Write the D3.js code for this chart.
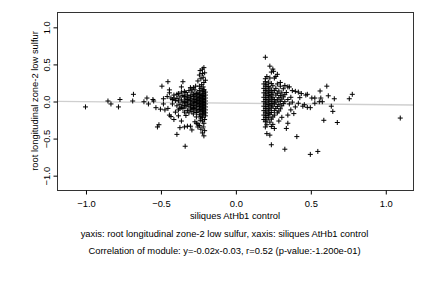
<!DOCTYPE html>
<html>
<head>
<meta charset="utf-8">
<script src="https://cdn.jsdelivr.net/npm/d3@7"></script>
<style>
  body { margin: 0; background: #fff; }
  svg text { font-family: "Liberation Sans", Arial, Helvetica, sans-serif; font-size: 9.4px; fill: #000; }
</style>
</head>
<body>
<div id="chart"></div>
<script>
// tick values
const xTicks = [-1.0, -0.5, 0.0, 0.5, 1.0];
const yTicks = [-1.0, -0.5, 0.0, 0.5, 1.0];

// fit line y = slope * x + intercept
const slope = -0.02;
const intercept = -0.03;

// sparse points on the far left and the edges of the left group
const leftSparse = [
  [-1.00, -0.08], [-0.85, 0.00], [-0.83, -0.04], [-0.78, -0.08], [-0.77, 0.02],
  [-0.68, 0.09], [-0.685, 0.00], [-0.61, -0.01], [-0.59, 0.04], [-0.58, -0.04],
  [-0.55, 0.02], [-0.545, 0.00], [-0.53, -0.09], [-0.52, -0.35], [-0.51, -0.32],
  [-0.49, 0.20], [-0.50, -0.11], [-0.48, 0.03], [-0.48, -0.04], [-0.47, -0.12],
  [-0.45, 0.26], [-0.455, 0.06], [-0.44, 0.15], [-0.44, 0.11], [-0.45, -0.10],
  [-0.44, -0.19], [-0.43, -0.21], [-0.42, 0.02], [-0.41, -0.25], [-0.39, -0.45],
  [-0.37, -0.36], [-0.35, 0.26], [-0.36, 0.19], [-0.34, -0.35], [-0.32, -0.34],
  [-0.34, 0.13], [-0.36, -0.27], [-0.335, -0.61], [-0.30, -0.34], [-0.29, -0.39],
  [-0.26, -0.30], [-0.25, -0.35], [-0.30, 0.18], [-0.29, 0.16], [-0.235, -0.26],
  [-0.39, 0.09], [-0.41, 0.04], [-0.37, -0.10], [-0.40, -0.15], [-0.38, -0.20]
];

// the tall column near x = -0.2
const leftColumn = [
  [-0.21, 0.45], [-0.22, 0.43], [-0.235, 0.41], [-0.22, 0.37], [-0.24, 0.35],
  [-0.215, 0.32], [-0.23, 0.30], [-0.25, 0.27], [-0.21, 0.25], [-0.225, 0.22],
  [-0.24, 0.20], [-0.265, 0.20], [-0.28, 0.18], [-0.23, 0.17], [-0.21, 0.15],
  [-0.21, -0.47], [-0.22, -0.43], [-0.205, -0.40], [-0.23, -0.38], [-0.24, -0.33],
  [-0.21, -0.30], [-0.22, -0.27], [-0.25, -0.31], [-0.27, -0.28], [-0.23, -0.23],
  [-0.205, -0.25], [-0.215, -0.35], [-0.2, 0.28], [-0.205, 0.38], [-0.215, 0.19]
];

// dense part of the left group
const leftDense = [
  [-0.21, 0.15], [-0.24, 0.14], [-0.27, 0.15], [-0.31, 0.14],
  [-0.20, 0.12], [-0.22, 0.125], [-0.25, 0.11], [-0.29, 0.12], [-0.33, 0.115], [-0.36, 0.12],
  [-0.21, 0.10], [-0.23, 0.095], [-0.26, 0.10], [-0.28, 0.09], [-0.38, 0.10],
  [-0.20, 0.08], [-0.22, 0.075], [-0.24, 0.085], [-0.27, 0.08], [-0.30, 0.07], [-0.32, 0.08], [-0.35, 0.075], [-0.41, 0.08],
  [-0.21, 0.06], [-0.23, 0.055], [-0.25, 0.065], [-0.28, 0.06], [-0.31, 0.05], [-0.34, 0.06], [-0.37, 0.055],
  [-0.20, 0.04], [-0.22, 0.035], [-0.24, 0.045], [-0.26, 0.04], [-0.29, 0.03], [-0.33, 0.04], [-0.39, 0.035], [-0.43, 0.04],
  [-0.21, 0.02], [-0.23, 0.015], [-0.25, 0.025], [-0.27, 0.02], [-0.30, 0.01], [-0.32, 0.02], [-0.36, 0.015],
  [-0.20, 0.00], [-0.22, -0.005], [-0.24, 0.005], [-0.26, 0.00], [-0.28, -0.01], [-0.31, 0.00], [-0.34, -0.005], [-0.38, 0.00], [-0.40, 0.005],
  [-0.21, -0.02], [-0.23, -0.025], [-0.25, -0.015], [-0.27, -0.02], [-0.29, -0.03], [-0.33, -0.02], [-0.35, -0.025],
  [-0.20, -0.04], [-0.22, -0.045], [-0.24, -0.035], [-0.26, -0.04], [-0.30, -0.05], [-0.32, -0.04], [-0.37, -0.045], [-0.42, -0.04],
  [-0.21, -0.06], [-0.23, -0.065], [-0.25, -0.055], [-0.28, -0.06], [-0.31, -0.07], [-0.34, -0.06], [-0.39, -0.065],
  [-0.20, -0.08], [-0.22, -0.085], [-0.24, -0.075], [-0.27, -0.08], [-0.29, -0.09], [-0.33, -0.08], [-0.36, -0.085],
  [-0.21, -0.10], [-0.23, -0.105], [-0.26, -0.095], [-0.28, -0.10], [-0.30, -0.11], [-0.35, -0.10],
  [-0.20, -0.12], [-0.22, -0.125], [-0.24, -0.115], [-0.27, -0.12], [-0.32, -0.13], [-0.38, -0.12],
  [-0.21, -0.14], [-0.23, -0.145], [-0.25, -0.135], [-0.29, -0.14], [-0.34, -0.15],
  [-0.20, -0.16], [-0.22, -0.165], [-0.26, -0.155], [-0.31, -0.16],
  [-0.21, -0.18], [-0.24, -0.185], [-0.28, -0.175],
  [-0.20, -0.20], [-0.23, -0.205], [-0.33, -0.195],
  [-0.22, -0.22], [-0.26, -0.215]
];

// sparse points of the right group and far right
const rightSparse = [
  [0.20, 0.59], [0.23, 0.47], [0.25, 0.43], [0.255, 0.40], [0.24, 0.39],
  [0.21, 0.33], [0.23, 0.31], [0.26, 0.31], [0.27, 0.33], [0.20, 0.30],
  [0.35, 0.19], [0.36, 0.19], [0.40, 0.13], [0.42, 0.12], [0.46, -0.05],
  [0.40, -0.08], [0.39, -0.17], [0.35, -0.19], [0.35, -0.30], [0.34, -0.37],
  [0.26, -0.37], [0.23, -0.46], [0.21, -0.44], [0.24, -0.59], [0.33, -0.65],
  [0.41, -0.48], [0.43, 0.045], [0.47, 0.08], [0.48, 0.09], [0.51, 0.04],
  [0.53, 0.04], [0.565, 0.135], [0.57, 0.04], [0.58, -0.01], [0.56, -0.01],
  [0.61, 0.20], [0.62, 0.07], [0.66, 0.03], [0.64, -0.07], [0.65, -0.14],
  [0.59, -0.26], [0.68, -0.29], [0.76, 0.03], [0.78, 0.09], [0.53, -0.03],
  [0.45, -0.07], [0.48, -0.085], [0.50, -0.09], [1.10, -0.23], [0.55, -0.68],
  [0.50, -0.72], [0.30, 0.25], [0.33, 0.21], [0.29, -0.27], [0.31, -0.22],
  [0.44, 0.10], [0.38, 0.14], [0.42, -0.03], [0.37, -0.12], [0.28, 0.36]
];

// dense part of the right group
const rightDense = [
  [0.20, 0.26], [0.22, 0.255],
  [0.19, 0.23], [0.21, 0.225], [0.24, 0.235], [0.28, 0.23],
  [0.20, 0.20], [0.22, 0.195], [0.25, 0.205], [0.30, 0.20],
  [0.19, 0.17], [0.21, 0.165], [0.23, 0.175], [0.27, 0.17], [0.32, 0.165],
  [0.20, 0.14], [0.22, 0.135], [0.24, 0.145], [0.26, 0.14], [0.29, 0.135],
  [0.19, 0.11], [0.21, 0.105], [0.23, 0.115], [0.25, 0.11], [0.28, 0.105], [0.31, 0.11], [0.34, 0.115],
  [0.20, 0.08], [0.22, 0.075], [0.24, 0.085], [0.27, 0.08], [0.30, 0.075], [0.33, 0.085],
  [0.19, 0.05], [0.21, 0.045], [0.23, 0.055], [0.25, 0.05], [0.29, 0.045], [0.32, 0.055], [0.37, 0.05],
  [0.20, 0.02], [0.22, 0.015], [0.24, 0.025], [0.26, 0.02], [0.28, 0.015], [0.31, 0.025], [0.35, 0.02],
  [0.19, -0.01], [0.21, -0.015], [0.23, -0.005], [0.25, -0.01], [0.27, -0.015], [0.30, -0.005], [0.33, -0.01], [0.38, -0.015],
  [0.20, -0.04], [0.22, -0.045], [0.24, -0.035], [0.26, -0.04], [0.29, -0.045], [0.32, -0.035], [0.36, -0.04],
  [0.19, -0.07], [0.21, -0.075], [0.23, -0.065], [0.25, -0.07], [0.28, -0.075], [0.31, -0.065],
  [0.20, -0.10], [0.22, -0.105], [0.24, -0.095], [0.27, -0.10], [0.30, -0.105],
  [0.19, -0.13], [0.21, -0.135], [0.23, -0.125], [0.26, -0.13], [0.29, -0.135],
  [0.20, -0.16], [0.22, -0.165], [0.24, -0.155], [0.28, -0.16],
  [0.19, -0.19], [0.21, -0.195], [0.23, -0.185], [0.26, -0.19],
  [0.20, -0.22], [0.22, -0.225], [0.25, -0.215],
  [0.19, -0.25], [0.21, -0.255], [0.24, -0.245],
  [0.20, -0.28], [0.23, -0.285],
  [0.21, -0.32], [0.25, -0.315],
  [0.20, -0.35], [0.24, -0.345]
];

const points = [].concat(leftSparse, leftColumn, leftDense, rightSparse, rightDense);

const width = 432, height = 288;
const plot = { left: 57, right: 413, top: 12, bottom: 190 };

const svg = d3.select("#chart").append("svg")
  .attr("width", width)
  .attr("height", height);

const x = d3.scaleLinear().domain([-1.19, 1.185]).range([plot.left, plot.right]);
const y = d3.scaleLinear().domain([-1.2, 1.2]).range([plot.bottom, plot.top]);

// regression line
const lineX = x.domain();
svg.append("line")
  .attr("x1", x(lineX[0])).attr("y1", y(slope * lineX[0] + intercept))
  .attr("x2", x(lineX[1])).attr("y2", y(slope * lineX[1] + intercept))
  .attr("stroke", "#cfcfcf")
  .attr("stroke-width", 1.3);

// points, drawn as plus signs
svg.append("g").selectAll("path")
  .data(points)
  .enter().append("path")
  .attr("transform", d => `translate(${x(d[0])},${y(d[1])})`)
  .attr("d", "M-2.5,0H2.5M0,-2.5V2.5")
  .attr("stroke", "#000")
  .attr("stroke-width", 1)
  .attr("fill", "none");

// box
svg.append("rect")
  .attr("x", plot.left + 0.5).attr("y", plot.top + 0.5)
  .attr("width", plot.right - plot.left).attr("height", plot.bottom - plot.top)
  .attr("fill", "none")
  .attr("stroke", "#333")
  .attr("stroke-width", 1);

// x axis
const xAxis = svg.append("g")
  .attr("transform", `translate(0.5,${plot.bottom + 0.5})`)
  .call(d3.axisBottom(x).tickValues(xTicks).tickSize(4).tickPadding(6).tickFormat(d3.format(".1f")));
xAxis.select(".domain").remove();
xAxis.selectAll("text").attr("font-size", null).attr("font-family", null);

// y axis, labels rotated as in R
const yAxis = svg.append("g")
  .attr("transform", `translate(${plot.left + 0.5},0.5)`)
  .call(d3.axisLeft(y).tickValues(yTicks).tickSize(4).tickFormat(d3.format(".1f")));
yAxis.select(".domain").remove();
yAxis.selectAll("text")
  .attr("font-size", null).attr("font-family", null)
  .attr("x", null).attr("dy", null)
  .attr("text-anchor", "middle")
  .attr("transform", "translate(-7.5,0) rotate(-90)");

// axis titles
svg.append("text")
  .attr("x", (plot.left + plot.right) / 2)
  .attr("y", 218.5)
  .attr("text-anchor", "middle")
  .text("siliques AtHb1 control");

svg.append("text")
  .attr("transform", `translate(37.5,${(plot.top + plot.bottom) / 2}) rotate(-90)`)
  .attr("text-anchor", "middle")
  .text("root longitudinal zone-2 low sulfur");

svg.append("text")
  .attr("x", 224.5)
  .attr("y", 236.5)
  .attr("text-anchor", "middle")
  .text("yaxis: root longitudinal zone-2 low sulfur, xaxis: siliques AtHb1 control");

svg.append("text")
  .attr("x", 224.5)
  .attr("y", 253.5)
  .attr("text-anchor", "middle")
  .text("Correlation of module: y=-0.02x-0.03, r=0.52 (p-value:-1.200e-01)");
</script>
</body>
</html>
